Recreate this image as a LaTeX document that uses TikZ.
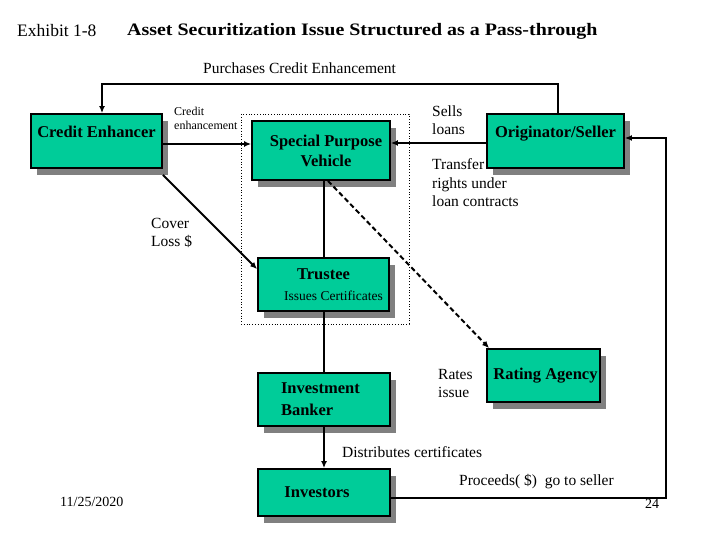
\documentclass[tikz,border=0pt]{standalone}
\usepackage{fontspec}
\setmainfont{Liberation Serif}
\newfontfamily\titlefont[FakeStretch=1.14]{Liberation Serif}
\usetikzlibrary{arrows.meta,shadows}
\definecolor{boxgreen}{RGB}{0,204,153}
\definecolor{shadowgray}{RGB}{128,128,128}
\begin{document}
\begin{tikzpicture}[
    x=1pt, y=-1pt,
    % Style for the boxes: green fill, black border, grey shadow
    box/.style={rectangle, draw, line width=1.8pt, fill=boxgreen, inner sep=0pt,
        font=\fontsize{16.5}{20}\selectfont\bfseries, align=center,
        drop shadow={shadow xshift=6pt, shadow yshift=-7pt, fill=shadowgray, opacity=1}},
    % Style for connectors: thick line with a small filled tip
    link/.style={line width=2pt, -{Latex[length=7pt,width=6pt]}},
    % Style for the free texts
    note/.style={inner sep=0pt, anchor=west, align=left,
        font=\fontsize{15.5}{18.5}\selectfont}
]
    \useasboundingbox (0,0) rectangle (720,540);

    % --- Heading ---
    \node[note, font=\fontsize{17.5}{20}\selectfont] (exhibit) at (17,31) {Exhibit 1-8};
    \node[note, font=\titlefont\fontsize{17.5}{20}\selectfont\bfseries] (title) at (127,31)
        {Asset Securitization Issue Structured as a Pass-through};

    % --- Dotted frame round the vehicle and the trustee ---
    \draw[dotted, line width=0.8pt] (241,114) rectangle (409,324);

    % --- Labels on the connectors (boxes may hide part of them) ---
    \node[note] (lpurch) at (203,68) {Purchases Credit Enhancement};
    \node[note, font=\fontsize{12}{14}\selectfont] (lcred) at (174,118) {Credit\\enhancement};
    \node[note] (lsells) at (432,120) {Sells\\loans};
    \node[note] (ltrans) at (432,183) {Transfer\\rights under\\loan contracts};
    \node[note] (lcover) at (151,233) {Cover\\Loss \$};
    \node[note] (lrates) at (438,383.5) {Rates\\issue};
    \node[note] (ldistr) at (342,452) {Distributes certificates};
    \node[note] (lproc) at (459,482) {Proceeds( \$)\ \ go to seller};

    % --- Boxes ---
    \node[box, minimum width=131pt, minimum height=54pt, text height=11pt, text depth=17pt]
        (ce) at (96.5,141) {Credit Enhancer};
    \node[box, minimum width=138pt, minimum height=59pt]
        (spv) at (321,150.5) {\hspace*{10pt}Special Purpose\\\hspace*{10pt}Vehicle};
    \node[box, minimum width=137pt, minimum height=54pt, text height=11pt, text depth=17pt]
        (orig) at (555.5,141) {Originator/Seller};
    \node[box, minimum width=131pt, minimum height=53pt]
        (trustee) at (323.5,284.5) {Trustee\\[1pt]
        {\fontsize{13.5}{16}\selectfont\mdseries\hspace*{20pt}Issues Certificates}};
    \node[box, minimum width=132pt, minimum height=53pt, text width=86pt, align=left]
        (ib) at (324,399.5) {Investment\\[2pt]Banker};
    \node[box, minimum width=113pt, minimum height=53pt]
        (rating) at (543.5,375.5) {\hspace*{4pt}Rating Agency};
    \node[box, minimum width=132pt, minimum height=47pt]
        (inv) at (324,492.5) {Investors\hspace*{14pt}};

    % --- Bend points of the outer loops ---
    \coordinate (pR) at (558,84);
    \coordinate (pL) at (102,84);
    \coordinate (qB) at (666,498);
    \coordinate (qT) at (666,138);

    % --- Connectors ---
    \draw[link] (pR |- orig.north) -- (pR) -- (pL) -- (pL |- ce.north);
    \draw[link] ([yshift=-3pt]ce.east) -- ([yshift=-3pt]ce.east -| spv.west);
    \draw[link] ([yshift=-2pt]orig.west) -- ([yshift=-2pt]orig.west -| spv.east);
    \draw[link] ([yshift=-6pt]ce.south east) -- ([yshift=-12pt]trustee.north west);
    \draw[line width=2pt] (trustee.north) -- (trustee.north |- spv.south);
    \draw[line width=2pt] (trustee.south) -- (trustee.south |- ib.north);
    \draw[link] (ib.south) -- (inv.north);
    \draw[link, dash pattern=on 5pt off 3pt] ([xshift=7pt]spv.south) -- ([xshift=3pt]rating.north west);
    \draw[link] (inv.east |- qB) -- (qB) -- (qT) -- (orig.east |- qT);

    % --- Footer ---
    \node[note, font=\fontsize{14}{16}\selectfont] (date) at (60,502) {11/25/2020};
    \node[note, font=\fontsize{14}{16}\selectfont] (page) at (645,504) {24};

\end{tikzpicture}
\end{document}
